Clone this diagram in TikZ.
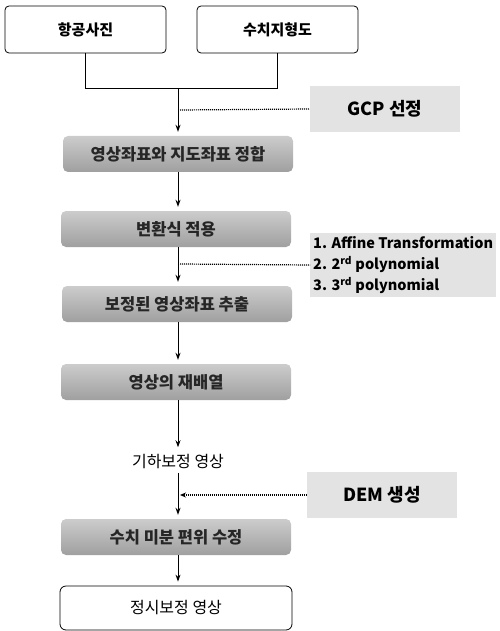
\documentclass[tikz,border=0pt]{standalone}
\usepackage{fontspec}
\setmainfont{Noto Sans CJK KR}
\usetikzlibrary{arrows.meta}
\begin{document}
\begin{tikzpicture}[x=1pt,y=-1pt,
  topbox/.style={draw, rounded corners=4pt, minimum width=161pt, minimum height=47pt, line width=0.8pt, font=\fontsize{15}{18}\selectfont\bfseries},
  graybox/.style={rounded corners=5pt, minimum width=230pt, minimum height=36pt, top color=gray!40, bottom color=gray!75, font=\fontsize{16.5}{19}\selectfont\bfseries, text=black!85},
  endbox/.style={draw, rounded corners=6pt, minimum width=232pt, minimum height=44pt, line width=0.8pt, font=\fontsize{16}{19}\selectfont},
  notebox/.style={fill=gray!22, font=\fontsize{18}{20}\selectfont\bfseries},
  arr/.style={-{Stealth[length=7pt,width=5pt]}, line width=1pt, shorten >=4pt},
  dotline/.style={dash pattern=on 1pt off 1pt, line width=1.2pt}
]
\useasboundingbox (0,0) rectangle (499,631);
% top boxes
\node[topbox] (a1) at (85.5,29.5) {항공사진};
\node[topbox] (a2) at (277.5,29.5) {수치지형도};
\coordinate (j) at (178,88);
\draw[line width=0.8pt] (a1.south) |- (a2.south |- j) -- (a2.south);
% process boxes
\node[graybox] (b1) at (178,154) {영상좌표와 지도좌표 정합};
\node[graybox] (b2) at (176,229) {변환식 적용};
\node[graybox] (b3) at (177,304) {보정된 영상좌표 추출};
\node[graybox] (b4) at (176,382) {영상의 재배열};
\node[font=\fontsize{16}{19}\selectfont] (h) at (178,462) {기하보정 영상};
\node[graybox] (b5) at (176,537) {수치 미분 편위 수정};
\node[endbox] (e) at (176,608) {정시보정 영상};
% side notes
\node[notebox, minimum width=150pt, minimum height=46pt] (g) at (385,109) {GCP 선정};
\node[notebox, align=left, anchor=west, inner sep=3pt, font=\fontsize{14.5}{21}\selectfont\bfseries] (t) at (310,265)
  {1. Affine Transformation\\2. 2\textsuperscript{rd} polynomial\\3. 3\textsuperscript{rd} polynomial};
\node[notebox, minimum width=150pt, minimum height=46pt] (d) at (382,495) {DEM 생성};
% arrows
\draw[arr] (j) -- (b1.north);
\draw[arr] (b1.south -| j) -- (b2.north -| j);
\draw[arr] (b2.south -| j) -- (b3.north -| j);
\draw[arr] (b3.south -| j) -- (b4.north -| j);
\draw[arr] (b4.south -| j) -- (h.north -| j);
\draw[arr] (h.south -| j) -- (b5.north -| j);
\draw[arr] (b5.south -| j) -- (e.north -| j);
% dotted connectors
\coordinate (k1) at (180,110);
\coordinate (k2) at (180,264);
\coordinate (k3) at (180,495);
\draw[dotline] (k1) -- (g.west);
\draw[dotline] (k2) -- (t.west);
\draw[dotline, {Stealth[length=6pt,width=5pt]}-] (k3) -- (d.west);
\end{tikzpicture}
\end{document}
